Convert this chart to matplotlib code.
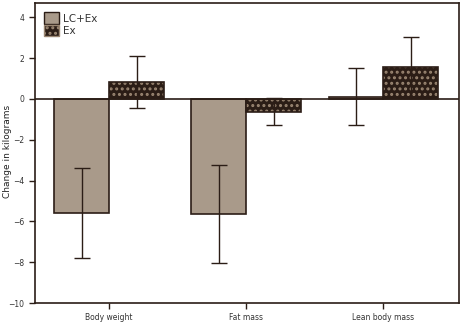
import matplotlib.pyplot as plt
import numpy as np
from matplotlib.patches import Patch

cats = ['Body weight', 'Fat mass', 'Lean body mass']
lc_ex = [-5.6, -5.65, 0.1]
lc_ex_err = [2.2, 2.4, 1.4]
ex = [0.82, -0.62, 1.55]
ex_err = [1.27, 0.66, 1.5]

dark = '#2b1d16'
tan = '#a99a8a'
dots = '#9a8672'

plt.rcParams['hatch.linewidth'] = 1.4
fig = plt.figure(figsize=(4.63, 3.22), dpi=100)
ax = fig.add_axes([0.0756, 0.059, 0.9154, 0.9317])

x = np.arange(len(cats))
w = 0.4
ax.bar(x - w / 2, lc_ex, w, color=tan, edgecolor=dark, linewidth=1.2)
ax.bar(x + w / 2, ex, w, color=dark, edgecolor=dots, hatch='...', linewidth=0)
ax.bar(x + w / 2, ex, w, color='none', edgecolor=dark, linewidth=1.2)
ax.errorbar(x - w / 2, lc_ex, yerr=lc_ex_err, fmt='none', ecolor=dark, elinewidth=1, capsize=5.5, capthick=1)
ax.errorbar(x + w / 2, ex, yerr=ex_err, fmt='none', ecolor=dark, elinewidth=1, capsize=5.5, capthick=1)
ax.axhline(0, color=dark, linewidth=1.2, zorder=1)

ax.set_xlim(-0.54, 2.55)
ax.set_ylim(-10, 4.7)
ax.set_yticks([4, 2, 0, -2, -4, -6, -8, -10])
ax.set_xticks(x)
ax.set_xticklabels(cats)
ax.tick_params(colors=dark, labelcolor='#333333', labelsize=5.5, width=1, length=4)
for s in ax.spines.values():
    s.set_color(dark)
    s.set_linewidth(1.2)
fig.text(0.017, 0.53, 'Change in kilograms', rotation=90, fontsize=6.5,
         color='#222222', ha='center', va='center')

handles = [Patch(facecolor=tan, edgecolor=dark, label='LC+Ex'),
           Patch(facecolor=dark, edgecolor=dots, hatch='...', label='Ex')]
ax.legend(handles=handles, loc='upper left', frameon=False, fontsize=7.5,
          handlelength=1.4, handleheight=1.3, borderaxespad=0.5,
          handletextpad=0.4, labelspacing=0.1, labelcolor='#333333')

fig.savefig('out.png')
